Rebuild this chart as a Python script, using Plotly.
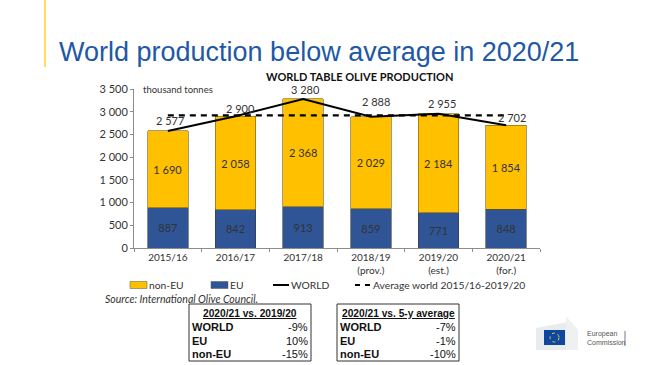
import plotly.graph_objects as go

# ---------------- data ----------------
seasons = ["2015/16", "2016/17", "2017/18", "2018/19<br>(prov.)", "2019/20<br>(est.)", "2020/21<br>(for.)"]
eu = [887, 842, 913, 859, 771, 848]
non_eu = [1690, 2058, 2368, 2029, 2184, 1854]
world = [2577, 2900, 3280, 2888, 2955, 2702]
avg_world = 2920
y_tickvals = [0, 500, 1000, 1500, 2000, 2500, 3000, 3500]
y_ticktext = ["0", "500", "1 000", "1 500", "2 000", "2 500", "3 000", "3 500"]

table_rows = ["WORLD", "EU", "non-EU"]
table1_title = "2020/21 vs. 2019/20"
table1_vals = ["-9%", "10%", "-15%"]
table2_title = "2020/21 vs. 5-y average"
table2_vals = ["-7%", "-1%", "-10%"]


def fmt(v):
    return f"{v:,}".replace(",", " ")


# ---------------- layout geometry ----------------
W, H = 649, 365
L, R, T, B = 134, 109, 89, 117
PW, PH = W - L - R, H - T - B


def px(x):
    return (x - L) / PW


def py(y):
    return (H - B - y) / PH


YELLOW = "#FFC000"
BLUE = "#2F5597"
CHART_FONT = "Lato, Open Sans, sans-serif"
TXT = "#333333"

fig = go.Figure()

fig.add_trace(go.Bar(
    x=seasons, y=eu, name="EU",
    marker=dict(color=BLUE, line=dict(color="#3b3b3b", width=0.6)),
    text=[fmt(v) for v in eu], textposition="inside", insidetextanchor="middle",
    textfont=dict(family=CHART_FONT, size=11, color=TXT),
    width=0.6, showlegend=False, hoverinfo="skip",
))
fig.add_trace(go.Bar(
    x=seasons, y=non_eu, name="non-EU",
    marker=dict(color=YELLOW, line=dict(color="#6b5a20", width=0.6)),
    text=[fmt(v) for v in non_eu], textposition="inside", insidetextanchor="middle",
    textfont=dict(family=CHART_FONT, size=11, color=TXT),
    width=0.6, showlegend=False, hoverinfo="skip",
))
fig.add_trace(go.Scatter(
    x=seasons, y=[avg_world] * len(seasons), mode="lines",
    line=dict(color="black", width=2.2, dash="6px,5px"),
    showlegend=False, hoverinfo="skip",
))
fig.add_trace(go.Scatter(
    x=seasons, y=world, mode="lines",
    line=dict(color="black", width=2),
    showlegend=False, hoverinfo="skip",
))

annos = []
shapes = []

# total labels (offsets in pixels from the point: right, up)
label_shift = [(2, 10), (5, 8), (2, 9), None, (3, 10), (6, 8)]
for i, (s, v) in enumerate(zip(seasons, world)):
    if label_shift[i] is None:
        annos.append(dict(x=s, y=v, text=fmt(v), showarrow=True, arrowhead=0,
                          arrowwidth=0.8, arrowcolor="#555", ax=5, ay=-15,
                          standoff=2, startstandoff=6, xref="x", yref="y",
                          font=dict(family=CHART_FONT, size=11, color=TXT)))
    else:
        dx, dy = label_shift[i]
        annos.append(dict(x=s, y=v, text=fmt(v), showarrow=False, xref="x", yref="y",
                          xshift=dx, yshift=dy, yanchor="middle",
                          font=dict(family=CHART_FONT, size=11, color=TXT)))


def ptext(text, x, y, xanchor="left", size=11, family=CHART_FONT, color=TXT, **kw):
    annos.append(dict(text=text, x=px(x), y=py(y), xref="paper", yref="paper",
                      xanchor=xanchor, yanchor="middle", showarrow=False,
                      font=dict(family=family, size=size, color=color), **kw))


def pline(x0, y0, x1, y1, color, width, dash="solid"):
    shapes.append(dict(type="line", xref="paper", yref="paper", x0=px(x0), x1=px(x1),
                       y0=py(y0), y1=py(y1), line=dict(color=color, width=width, dash=dash)))


def prect(x0, y0, x1, y1, fill, line_color=None, line_width=0):
    shapes.append(dict(type="rect", xref="paper", yref="paper", x0=px(x0), x1=px(x1),
                       y0=py(y0), y1=py(y1), fillcolor=fill,
                       line=dict(color=line_color or "rgba(0,0,0,0)", width=line_width)))


# title and yellow bar
pline(45, 0, 45, 67, "#FFD21F", 1.5)
ptext("World production below average in 2020/21", 57, 52, size=27,
      family="Liberation Sans, Arial, sans-serif", color="#1F58A4")
ptext("<b>WORLD TABLE OLIVE PRODUCTION</b>", 359, 76, xanchor="center", size=11, color="#111")
ptext("thousand tonnes", 141, 89, size=9.5)

# custom legend
leg_y = 285
legend_items = [
    ("bar", YELLOW, 130, "non-EU"),
    ("bar", BLUE, 211, "EU"),
    ("line", "solid", 273, "WORLD"),
    ("line", "dash", 355, "Average world 2015/16-2019/20"),
]
for kind, style, x0, label in legend_items:
    if kind == "bar":
        prect(x0, leg_y - 3.5, x0 + 17, leg_y + 3.5, style, "#555", 0.5)
        tx = x0 + 17
    else:
        pline(x0, leg_y, x0 + 16, leg_y, "black", 2,
              "solid" if style == "solid" else "5px,5px")
        tx = x0 + 16
    ptext(label, tx, leg_y, size=10.3)

ptext("<i>Source: International Olive Council.</i>", 103, 299, size=10.5)

# tables
TBL_FONT = "Liberation Sans, Arial, sans-serif"
row_y = [327, 340.5, 354]
for (x0, x1), title, vals in [((189, 311), table1_title, table1_vals),
                              ((337, 459), table2_title, table2_vals)]:
    prect(x0, 304, x1, 361, "rgba(0,0,0,0)", "#333", 1)
    ptext(f"<b><u>{title}</u></b>", (x0 + x1) / 2, 313, xanchor="center",
          family=TBL_FONT, size=10.2, color="#111")
    for ry, name, val in zip(row_y, table_rows, vals):
        ptext(f"<b>{name}</b>", x0 + 1, ry, family=TBL_FONT, size=11, color="#111")
        ptext(val, x1 - 1, ry, xanchor="right", family=TBL_FONT, size=11, color="#111")

# European Commission logo (approximation)
shapes.append(dict(type="path", xref="paper", yref="paper",
                   path=f"M {px(536)},{py(350)} L {px(536)},{py(328)} L {px(568)},{py(322)} "
                        f"L {px(568)},{py(350)} Z",
                   fillcolor="#e9ecef", line=dict(width=0)))
shapes.append(dict(type="path", xref="paper", yref="paper",
                   path=f"M {px(566)},{py(350)} L {px(566)},{py(316)} L {px(578)},{py(330)} "
                        f"L {px(578)},{py(350)} Z",
                   fillcolor="#eef0f2", line=dict(width=0)))
prect(544, 345, 565, 330, "#0E47A1")
shapes.append(dict(type="circle", xref="paper", yref="paper",
                   x0=px(550), x1=px(559), y0=py(342), y1=py(333),
                   line=dict(color="#F7D117", width=1, dash="dot"), fillcolor="rgba(0,0,0,0)"))
ptext("European<br>Commission", 585, 338, size=7, family="Liberation Sans, Arial, sans-serif",
      color="#555", align="left")
pline(625, 331, 625, 346, "#6c7a96", 1)

fig.update_layout(
    width=W, height=H,
    margin=dict(l=L, r=R, t=T, b=B, pad=0, autoexpand=False),
    paper_bgcolor="white", plot_bgcolor="white",
    barmode="stack", bargap=0.4,
    annotations=annos,
    shapes=shapes,
    xaxis=dict(type="category", showgrid=False, showline=True, linecolor="#8c8c8c",
               linewidth=1, ticks="outside", ticklen=3, tickcolor="#8c8c8c",
               tickson="boundaries", tickfont=dict(family=CHART_FONT, size=10, color=TXT),
               range=[-0.5, 5.5], automargin=False),
    yaxis=dict(range=[0, 3500], tickvals=y_tickvals, ticktext=y_ticktext, showgrid=False,
               showline=True, linecolor="#8c8c8c", linewidth=1, ticks="outside",
               ticklen=3, tickcolor="#8c8c8c", zeroline=False, automargin=False,
               tickfont=dict(family=CHART_FONT, size=11, color=TXT)),
)

fig.write_html("out.html", config={"displayModeBar": False},
               post_script="document.body.style.margin='0';")
